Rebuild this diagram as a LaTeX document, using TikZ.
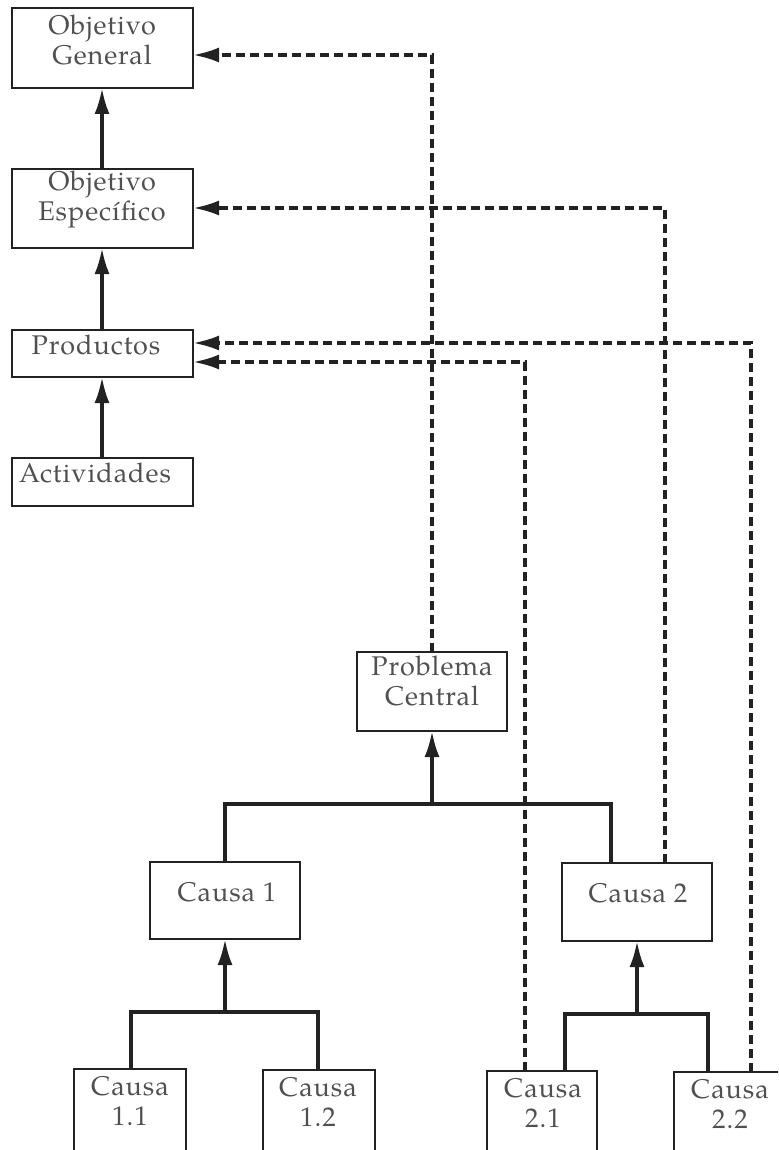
\documentclass[tikz,border=0pt]{standalone}
\usepackage{fontspec}
\setmainfont{texgyrepagella-regular.otf}[LetterSpace=3.5]
\usetikzlibrary{arrows.meta}
\definecolor{ink}{RGB}{34,34,34}
\definecolor{txt}{RGB}{80,80,80}
\tikzset{
  box/.style={draw=ink, line width=1.2pt},
  lbl/.style={text=txt, font=\fontsize{13.5}{16}\selectfont, inner sep=0pt, align=center},
  tip/.style={-{Latex[length=13pt,width=7.5pt]}},
  solidarrow/.style={draw=ink, line width=1.7pt, tip},
  solidline/.style={draw=ink, line width=1.7pt},
  dasharrow/.style={draw=ink, line width=1.7pt, dash pattern=on 4.5pt off 2.5pt, tip},
}
\begin{document}
\begin{tikzpicture}[x=0.5pt, y=-0.5pt]
  \useasboundingbox (0,0) rectangle (778,1150);
  \clip (0,0) rectangle (778,1150);

  % left column: objectives chain
  \draw[box] (12,8) rectangle (193,88);
  \coordinate (og-s) at (102,88);   \coordinate (og-e) at (193,55);
  \node[lbl] (og) at (102,40) {Objetivo\\[-1pt]General};

  \draw[box] (12,169) rectangle (193,248);
  \coordinate (oe-n) at (102,169);  \coordinate (oe-s) at (102,248);
  \coordinate (oe-e) at (193,208);
  \node[lbl] (oe) at (102,199) {Objetivo\\[-1pt]Específico};

  \draw[box] (12,330) rectangle (193,377);
  \coordinate (pr-n) at (102,330);  \coordinate (pr-s) at (102,377);
  \coordinate (pr-e1) at (193,343); \coordinate (pr-e2) at (193,362);
  \node[lbl] (pr) at (96,345) {Productos};

  \draw[box] (12,458) rectangle (193,506);
  \coordinate (ac-n) at (102,458);
  \node[lbl] (ac) at (95,473) {Actividades};

  \draw[solidarrow] (oe-n) -- (og-s);
  \draw[solidarrow] (pr-n) -- (oe-s);
  \draw[solidarrow] (ac-n) -- (pr-s);

  % problem tree
  \draw[box] (357,652) rectangle (507,731);
  \coordinate (pc-n) at (432,652);  \coordinate (pc-s) at (432,731);
  \node[lbl] (pc) at (432,681) {Problema\\[-1pt]Central};

  \draw[box] (150,862) rectangle (300,939);
  \coordinate (c1-n) at (225,862);  \coordinate (c1-s) at (225,939);
  \node[lbl] (c1) at (227,892) {Causa 1};

  \draw[box] (562,863) rectangle (712,941);
  \coordinate (c2-n) at (611,863);  \coordinate (c2-nd) at (665,863);
  \coordinate (c2-s) at (637,941);
  \node[lbl] (c2) at (638,893) {Causa 2};

  \draw[box] (74,1069) rectangle (186,1170);
  \coordinate (c11-n) at (131,1069);
  \node[lbl] (c11) at (130,1101) {Causa\\[-1pt]1.1};

  \draw[box] (263,1070) rectangle (375,1170);
  \coordinate (c12-n) at (318,1070);
  \node[lbl] (c12) at (318,1102) {Causa\\[-1pt]1.2};

  \draw[box] (487,1071) rectangle (597,1170);
  \coordinate (c21-n) at (565,1071);  \coordinate (c21-nd) at (525,1071);
  \node[lbl] (c21) at (543,1103) {Causa\\[-1pt]2.1};

  \draw[box] (674,1072) rectangle (790,1170);
  \coordinate (c22-n) at (708,1072);  \coordinate (c22-nd) at (751,1072);
  \node[lbl] (c22) at (730,1104) {Causa\\[-1pt]2.2};

  % solid branches of the tree
  \coordinate (b0) at (432,804);
  \draw[solidline] (c1-n) |- (b0) -| (c2-n);
  \draw[solidarrow] (b0) -- (pc-s);

  \coordinate (b1) at (225,1012);
  \draw[solidline] (c11-n) |- (b1) -| (c12-n);
  \draw[solidarrow] (b1) -- (c1-s);

  \coordinate (b2) at (637,1014);
  \draw[solidline] (c21-n) |- (b2) -| (c22-n);
  \draw[solidarrow] (b2) -- (c2-s);

  % dashed correspondences between the two trees
  \draw[dasharrow] (pc-n) |- (og-e);
  \draw[dasharrow] (c2-nd) |- (oe-e);
  \draw[dasharrow] (c22-nd) |- (pr-e1);
  \draw[dasharrow] (c21-nd) |- (pr-e2);
\end{tikzpicture}
\end{document}
